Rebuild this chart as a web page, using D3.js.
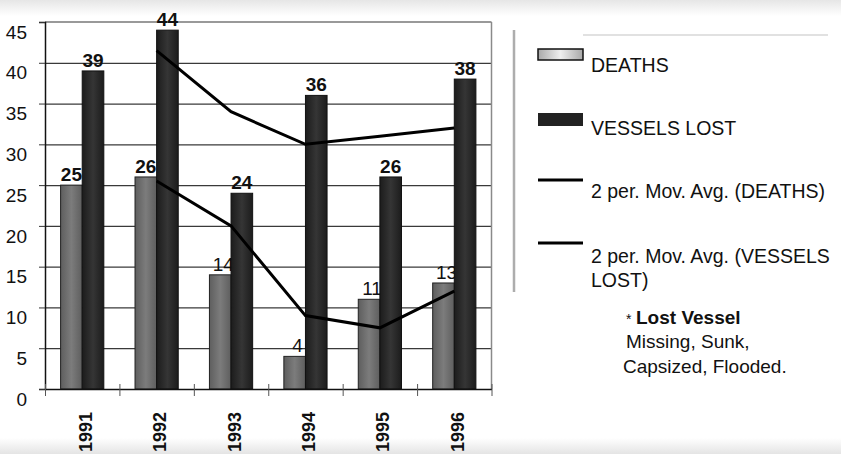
<!DOCTYPE html>
<html>
<head>
<meta charset="utf-8">
<script src="https://cdn.jsdelivr.net/npm/d3@7"></script>
<style>
  html, body { margin: 0; padding: 0; background: #fff; }
  svg { display: block; font-family: Arial, "Liberation Sans", Helvetica, sans-serif; }
</style>
</head>
<body>
<svg id="chart" width="841" height="454"></svg>
<script>
// ---------- DATA ----------
const years = ["1991", "1992", "1993", "1994", "1995", "1996"];
const deaths = [25, 26, 14, 4, 11, 13];
const vesselsLost = [39, 44, 24, 36, 26, 38];
// 2-period moving averages as shown by the trendlines
const deathsMovAvg = [null, 25.5, 20, 9, 7.5, 12];
const vesselsMovAvg = [null, 41.5, 34, 30, 31, 32];
const yTicks = [0, 5, 10, 15, 20, 25, 30, 35, 40, 45];
const legendLabels = ["DEATHS", "VESSELS LOST", "2 per. Mov. Avg. (DEATHS)", ["2 per. Mov. Avg. (VESSELS", "LOST)"]];
const noteLines = ["Lost Vessel", "Missing, Sunk,", "Capsized, Flooded."];

// ---------- STYLE ----------
const deathLabelWeight = ["bold", "bold", "normal", "normal", "normal", "normal"];

const svg = d3.select("#chart");
const W = 841, H = 454;
const plot = { left: 45, right: 491.5, top: 22, bottom: 389 };

// defs: gradients
const defs = svg.append("defs");
function hGrad(id, edge, mid) {
  const g = defs.append("linearGradient").attr("id", id).attr("x1", "0").attr("x2", "1").attr("y1", "0").attr("y2", "0");
  g.append("stop").attr("offset", "0%").attr("stop-color", edge);
  g.append("stop").attr("offset", "50%").attr("stop-color", mid);
  g.append("stop").attr("offset", "100%").attr("stop-color", edge);
}
hGrad("gDeaths", "#5e5e5e", "#7c7c7c");
hGrad("gVessels", "#1c1c1c", "#353535");
hGrad("gLegDeaths", "#a8a8a8", "#eeeeee");
const topShade = defs.append("linearGradient").attr("id", "topShade").attr("x1", 0).attr("x2", 0).attr("y1", 0).attr("y2", 1);
topShade.append("stop").attr("offset", "0%").attr("stop-color", "#e6e6e6");
topShade.append("stop").attr("offset", "100%").attr("stop-color", "#ffffff");
const botShade = defs.append("linearGradient").attr("id", "botShade").attr("x1", 0).attr("x2", 0).attr("y1", 0).attr("y2", 1);
botShade.append("stop").attr("offset", "0%").attr("stop-color", "#ffffff");
botShade.append("stop").attr("offset", "100%").attr("stop-color", "#e4e4e4");

// background
svg.append("rect").attr("width", W).attr("height", H).attr("fill", "#fff");
svg.append("rect").attr("x", 0).attr("y", 0).attr("width", W).attr("height", 16).attr("fill", "url(#topShade)");
svg.append("rect").attr("x", 0).attr("y", 438).attr("width", W).attr("height", 16).attr("fill", "url(#botShade)");

// scales
const x = d3.scaleBand().domain(years).range([plot.left, plot.right]).paddingInner(0).paddingOuter(0);
const xs = d3.scaleBand().domain(["d", "v"]).range([0, x.bandwidth()]).paddingInner(0).paddingOuter(0.722);
const y = d3.scaleLinear().domain([0, 45]).range([plot.bottom, plot.top]);

// gridlines
svg.append("g")
  .attr("transform", `translate(${plot.left},0)`)
  .call(d3.axisLeft(y).tickValues(yTicks.filter(v => v > 0 && v < 45)).tickSize(-(plot.right - plot.left)).tickFormat(""))
  .call(g => g.select(".domain").remove())
  .call(g => g.selectAll(".tick line").attr("stroke", "#3a3a3a").attr("stroke-width", 1.2));

// frame top & right
svg.append("line").attr("x1", plot.left).attr("x2", plot.right).attr("y1", y(45)).attr("y2", y(45)).attr("stroke", "#777").attr("stroke-width", 1.5);
svg.append("line").attr("x1", plot.right).attr("x2", plot.right).attr("y1", y(45)).attr("y2", plot.bottom).attr("stroke", "#8a8a8a").attr("stroke-width", 1.5);

// y axis
svg.append("g")
  .attr("transform", `translate(${plot.left},0)`)
  .call(d3.axisLeft(y).tickValues(yTicks).tickSize(6).tickPadding(12))
  .call(g => g.select(".domain").attr("stroke", "#111").attr("stroke-width", 1.5))
  .call(g => g.selectAll(".tick line").attr("stroke", "#333"))
  .call(g => g.selectAll(".tick text").attr("font-size", 19).attr("font-family", "Arial, 'Liberation Sans', sans-serif").attr("fill", "#111").attr("dy", "0.85em"));

// deaths bars
svg.append("g").selectAll("rect").data(years).join("rect")
  .attr("x", d => x(d) + xs("d"))
  .attr("y", (d, i) => y(deaths[i]))
  .attr("width", xs.bandwidth())
  .attr("height", (d, i) => y(0) - y(deaths[i]))
  .attr("fill", "url(#gDeaths)")
  .attr("stroke", "#222").attr("stroke-width", 1);

// deaths labels (under vessel bars)
svg.append("g").selectAll("text").data(years).join("text")
  .attr("x", (d, i) => x(d) + xs("d") + xs.bandwidth() / 2 + (i < 2 ? 0 : 3))
  .attr("y", (d, i) => y(deaths[i]) - 4)
  .attr("text-anchor", "middle")
  .attr("font-size", 19)
  .attr("font-weight", (d, i) => deathLabelWeight[i])
  .attr("fill", "#111")
  .text((d, i) => deaths[i]);

// vessels bars
svg.append("g").selectAll("rect").data(years).join("rect")
  .attr("x", d => x(d) + xs("v"))
  .attr("y", (d, i) => y(vesselsLost[i]))
  .attr("width", xs.bandwidth())
  .attr("height", (d, i) => y(0) - y(vesselsLost[i]))
  .attr("fill", "url(#gVessels)")
  .attr("stroke", "#111").attr("stroke-width", 1);

svg.append("g").selectAll("text").data(years).join("text")
  .attr("x", d => x(d) + xs("v") + xs.bandwidth() / 2)
  .attr("y", (d, i) => y(vesselsLost[i]) - 4)
  .attr("text-anchor", "middle")
  .attr("font-size", 19)
  .attr("font-weight", "bold")
  .attr("fill", "#111")
  .text((d, i) => vesselsLost[i]);

// x axis line + boundary ticks
const xb = d3.scaleLinear().domain([0, years.length]).range([plot.left, plot.right]);
svg.append("g")
  .attr("transform", `translate(0,${plot.bottom})`)
  .call(d3.axisBottom(xb).tickValues(d3.range(years.length + 1)).tickSizeInner(7).tickSizeOuter(0).tickFormat(""))
  .call(g => g.select(".domain").attr("stroke", "#111").attr("stroke-width", 1.5))
  .call(g => g.selectAll(".tick line").attr("stroke", "#555").attr("y1", -5));

// year labels
svg.append("g")
  .attr("transform", `translate(0,${plot.bottom})`)
  .call(d3.axisBottom(x).tickSize(0).tickFormat(d => d))
  .call(g => g.select(".domain").remove())
  .call(g => g.selectAll(".tick text")
    .attr("font-size", 18).attr("font-weight", "bold").attr("fill", "#111")
    .attr("font-family", "Arial, 'Liberation Sans', sans-serif")
    .attr("text-anchor", "end")
    .attr("dy", null)
    .attr("y", 0)
    .attr("transform", "translate(9.5,23) rotate(-90)"));

// moving average lines
const lineGen = d3.line()
  .defined(d => d.v != null)
  .x(d => x(d.year) + x.bandwidth() / 2)
  .y(d => y(d.v));
[deathsMovAvg, vesselsMovAvg].forEach(series => {
  svg.append("path")
    .datum(years.map((yr, i) => ({ year: yr, v: series[i] })))
    .attr("d", lineGen)
    .attr("fill", "none")
    .attr("stroke", "#000")
    .attr("stroke-width", 3)
    .attr("stroke-linejoin", "miter");
});

// ---------- LEGEND ----------
const leg = svg.append("g");
leg.append("line").attr("x1", 514).attr("x2", 514).attr("y1", 30).attr("y2", 292).attr("stroke", "#999").attr("stroke-width", 2.5).attr("opacity", 0.8);
leg.append("line").attr("x1", 583).attr("x2", 828).attr("y1", 35).attr("y2", 35).attr("stroke", "#c4c4c4").attr("stroke-width", 1.2);

const sx = 538, sw = 45, tx = 591;
leg.append("rect").attr("x", sx).attr("y", 49).attr("width", sw).attr("height", 11).attr("fill", "url(#gLegDeaths)").attr("stroke", "#111").attr("stroke-width", 1.5);
leg.append("rect").attr("x", sx).attr("y", 113).attr("width", sw).attr("height", 13).attr("fill", "#222");
leg.append("line").attr("x1", sx).attr("x2", sx + sw).attr("y1", 180).attr("y2", 180).attr("stroke", "#000").attr("stroke-width", 3);
leg.append("line").attr("x1", sx).attr("x2", sx + sw).attr("y1", 243).attr("y2", 243).attr("stroke", "#000").attr("stroke-width", 3);

const legText = (t, yy) => leg.append("text").attr("x", tx).attr("y", yy).attr("font-size", 19.5).attr("fill", "#111").text(t);
legText(legendLabels[0], 72);
legText(legendLabels[1], 135);
legText(legendLabels[2], 198);
legText(legendLabels[3][0], 263);
legText(legendLabels[3][1], 287);

// note
leg.append("text").attr("x", 626).attr("y", 324).attr("font-size", 14).attr("fill", "#111").text("*");
leg.append("text").attr("x", 636).attr("y", 324).attr("font-size", 19).attr("font-weight", "bold").attr("fill", "#111").text(noteLines[0]);
leg.append("text").attr("x", 626).attr("y", 348).attr("font-size", 19).attr("fill", "#111").text(noteLines[1]);
leg.append("text").attr("x", 623).attr("y", 373).attr("font-size", 19).attr("fill", "#111").text(noteLines[2]);
</script>
</body>
</html>
